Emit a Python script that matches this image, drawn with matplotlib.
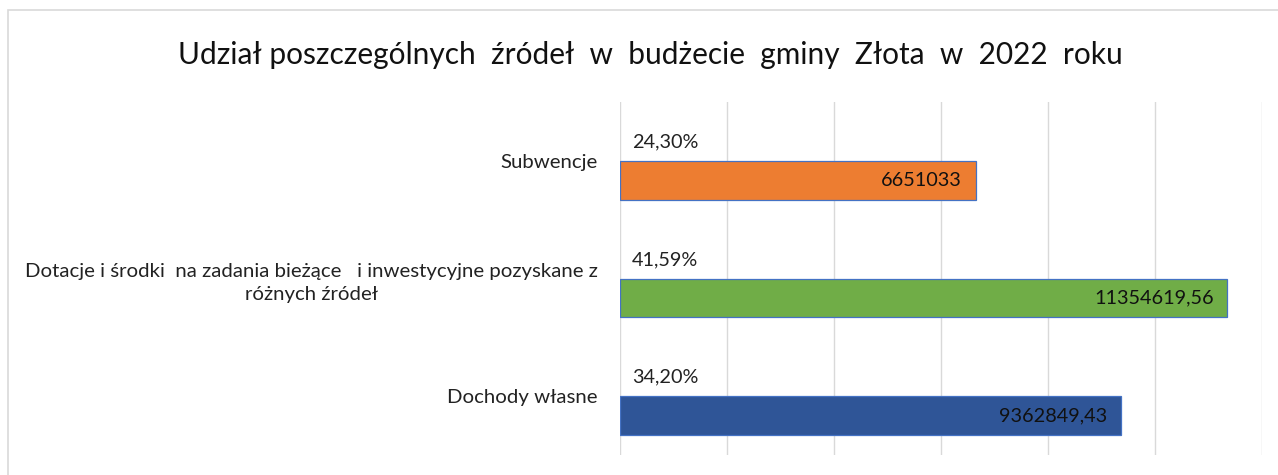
import matplotlib
matplotlib.use("Agg")
import matplotlib.pyplot as plt
from matplotlib.patches import Rectangle

DPI = 100

# data
categories = ["Dochody własne",
              "Dotacje i środki  na zadania bieżące   i inwestycyjne pozyskane z\nróżnych źródeł",
              "Subwencje"]
values = [9362849.43, 11354619.56, 6651033]
value_labels = ["9362849,43", "11354619,56", "6651033"]
pct_labels = ["34,20%", "41,59%", "24,30%"]
colors = ["#2F5597", "#70AD47", "#ED7D31"]

plt.rcParams['font.family'] = ['Lato', 'DejaVu Sans']

fig = plt.figure(figsize=(1278 / DPI, 475 / DPI), dpi=DPI)
ax = fig.add_axes([620 / 1278, 20 / 475, 642 / 1278, 353 / 475])

# chart frame
fig.patches.append(Rectangle((8 / 1278, -0.1), 1.2, 1.1 - 10 / 475,
                             transform=fig.transFigure, fill=False,
                             edgecolor='#D9D9D9', linewidth=1.2))

ypos = range(len(categories))
bar_y = [y - 0.166 for y in ypos]
ax.barh(bar_y, values, height=0.33, color=colors, edgecolor='#4472C4',
        linewidth=0.9, zorder=3)

for y, v, vl, pl in zip(ypos, values, value_labels, pct_labels):
    ax.annotate(vl, (v, y - 0.166), xytext=(-10, 0), textcoords='offset points',
                ha='right', va='center', fontsize=14.3, color='#111111', zorder=4)
    ax.annotate(pl, (0, y + 0.16), xytext=(8.6, 0), textcoords='offset points',
                ha='left', va='center', fontsize=14.3, color='#222222')

ax.set_xlim(0, 12000000)
ax.set_ylim(-0.5, 2.5)
ax.set_xticks(range(0, 12000001, 2000000))
ax.set_xticklabels([])
ax.tick_params(axis='x', length=0)
ax.set_yticks(list(ypos))
ax.set_yticklabels(categories, fontsize=14.7, color='#222222',
                   multialignment='center', linespacing=1.45)
ax.tick_params(axis='y', length=0, pad=16)
ax.grid(axis='x', color='#D9D9D9', linewidth=1, zorder=0)
for s in ax.spines.values():
    s.set_visible(False)

fig.text(650 / 1278, 1 - 55 / 475, "Udział poszczególnych  źródeł  w  budżecie  gminy  Złota  w  2022  roku",
         ha='center', va='center', fontsize=21.5, color='#111111')

fig.savefig("out.png", dpi=DPI)
